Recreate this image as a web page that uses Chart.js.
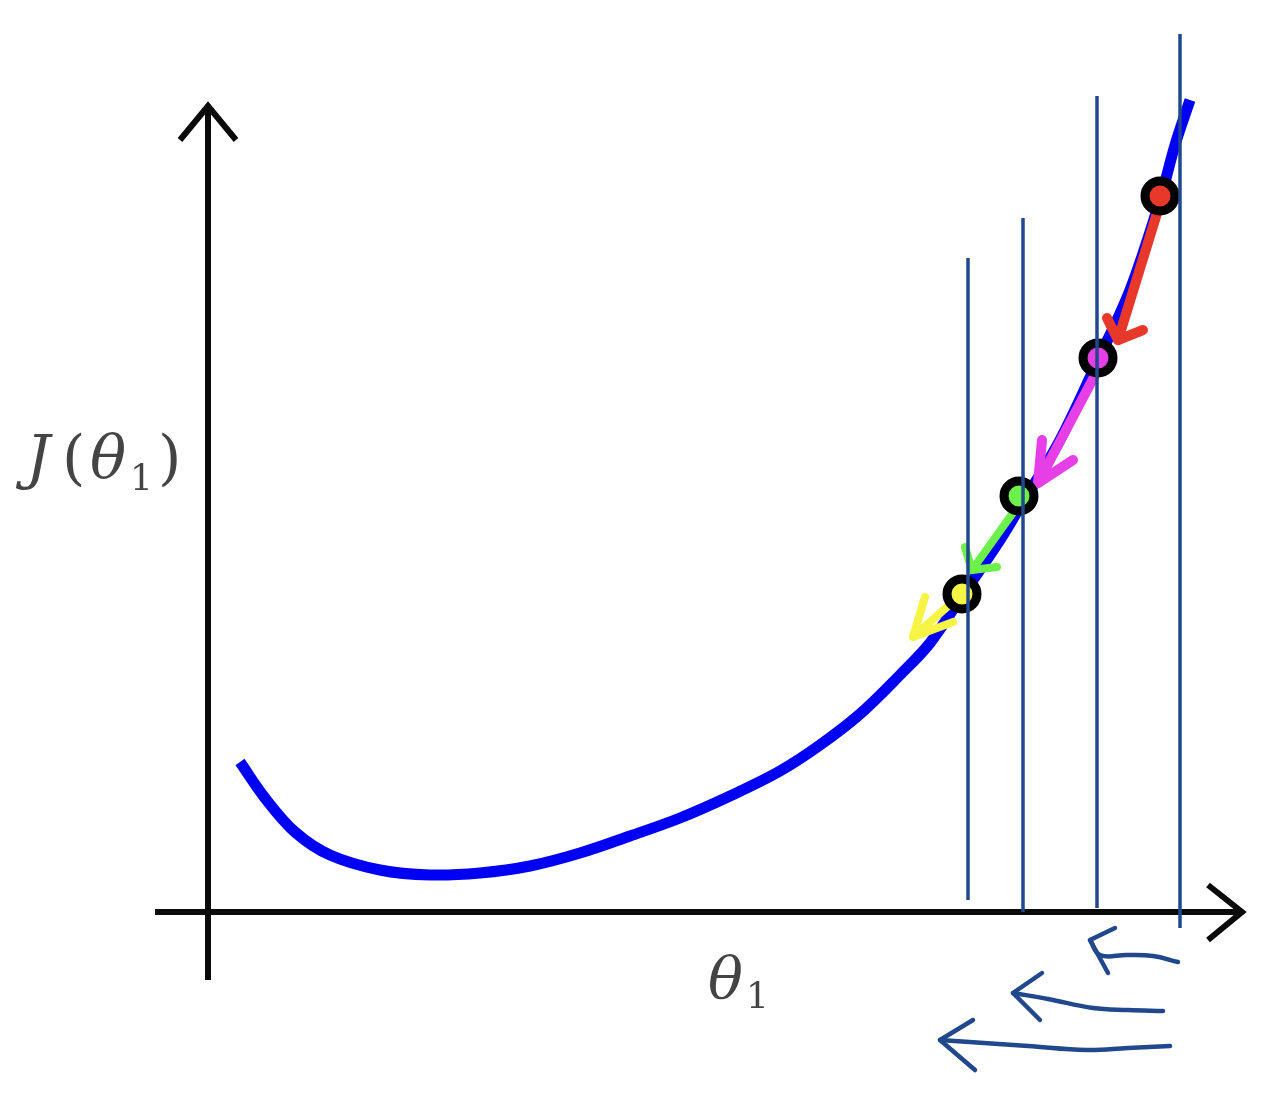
<!DOCTYPE html>
<html>
<head>
<meta charset="utf-8">
<script src="https://cdn.jsdelivr.net/npm/chart.js@4.4.1/dist/chart.umd.min.js"></script>
<style>
    html, body { margin: 0; padding: 0; background: #ffffff; }
    #wrap { width: 1272px; height: 1106px; }
</style>
</head>
<body>
<div id="wrap"><canvas id="descentChart" width="1272" height="1106"></canvas></div>
<script>
// cost curve J(theta1)
const curveTheta = [0.32, 0.57, 0.87, 1.22, 1.72, 2.22, 2.72, 3.22, 3.72, 4.22, 4.72, 5.22, 5.72, 6.12, 6.52, 6.92, 7.22, 7.54, 7.92, 8.12, 8.52, 8.90, 9.22, 9.52, 9.67, 9.82];
const curveCost = [1.50, 1.14, 0.80, 0.57, 0.42, 0.37, 0.39, 0.46, 0.59, 0.76, 0.94, 1.16, 1.41, 1.67, 1.98, 2.37, 2.69, 3.16, 3.72, 4.05, 4.72, 5.52, 6.22, 7.12, 7.67, 8.12];

// gradient descent steps
const stepTheta = [9.52, 8.90, 8.11, 7.54];
const stepCost = [7.16, 5.54, 4.16, 3.18];
const stepColors = ['#e8382a', '#e63fe8', '#6cf04c', '#f6f545'];

// step arrows: tail, tip, and the two arms of the head
const arrowTail = [[9.50, 7.02], [8.87, 5.37], [8.07, 4.02], [7.47, 3.12]];
const arrowTip = [[9.10, 5.72], [8.30, 4.29], [7.64, 3.42], [7.05, 2.75]];
const arrowArmA = [[8.99, 5.94], [8.34, 4.72], [7.57, 3.65], [7.17, 3.15]];
const arrowArmB = [[9.35, 5.82], [8.65, 4.52], [7.89, 3.45], [7.45, 2.90]];

// vertical guides at each theta
const guideTheta = [7.60, 8.15, 8.89, 9.72];
const guideTop = [6.54, 6.94, 8.16, 8.78];
const guideBottom = [0.12, 0.00, 0.04, -0.16];

// hand drawn step-size arrows under the axis
const handArrows = [
    [[9.70, -0.50], [9.45, -0.44], [9.19, -0.43], [8.92, -0.43], [8.82, -0.28]],
    [[9.55, -0.99], [9.20, -0.98], [8.85, -0.96], [8.40, -0.87], [8.05, -0.81]],
    [[9.62, -1.34], [9.20, -1.36], [8.79, -1.38], [8.20, -1.34], [7.32, -1.28]]
];
const handHeads = [
    [[9.07, -0.16], [8.82, -0.28], [9.00, -0.61]],
    [[8.34, -0.61], [8.05, -0.81], [8.32, -1.08]],
    [[7.65, -1.08], [7.32, -1.28], [7.67, -1.58]]
];

const toPts = (xs, ys) => xs.map((x, i) => ({x: x, y: ys[i]}));
const pair = p => ({x: p[0], y: p[1]});

const guideColor = '#21488c';
const datasets = [];

// guides go on top (first dataset is drawn last)
guideTheta.forEach((t, i) => {
    datasets.push({
        data: [{x: t, y: guideBottom[i]}, {x: t, y: guideTop[i]}],
        borderColor: guideColor, borderWidth: 3.5, showLine: true, pointRadius: 0
    });
});

datasets.push({
    data: toPts(stepTheta, stepCost),
    showLine: false,
    pointRadius: 15,
    pointBorderWidth: 9,
    pointBorderColor: '#000000',
    pointBackgroundColor: stepColors
});

stepColors.forEach((c, i) => {
    const w = i < 2 ? 10 : 8;
    datasets.push({
        data: [pair(arrowTail[i]), pair(arrowTip[i])],
        borderColor: c, borderWidth: w, showLine: true, pointRadius: 0, borderCapStyle: 'round'
    });
    datasets.push({
        data: [pair(arrowArmA[i]), pair(arrowTip[i]), pair(arrowArmB[i])],
        borderColor: c, borderWidth: w, showLine: true, pointRadius: 0,
        borderCapStyle: 'round', borderJoinStyle: 'round'
    });
});

datasets.push({
    data: toPts(curveTheta, curveCost),
    borderColor: '#0000f5', borderWidth: 11, showLine: true, pointRadius: 0,
    tension: 0.35, borderJoinStyle: 'round'
});

handArrows.forEach((arr, i) => {
    datasets.push({
        data: arr.map(pair),
        borderColor: guideColor, borderWidth: 4.5, showLine: true, pointRadius: 0,
        tension: 0.4, borderCapStyle: 'round'
    });
    datasets.push({
        data: handHeads[i].map(pair),
        borderColor: guideColor, borderWidth: 4.5, showLine: true, pointRadius: 0,
        borderCapStyle: 'round', borderJoinStyle: 'round'
    });
});

// axes with arrow heads
const axisColor = '#0a0a0a';
datasets.push({
    data: [{x: 0, y: -0.68}, {x: 0, y: 8.06}],
    borderColor: axisColor, borderWidth: 6, showLine: true, pointRadius: 0
});
datasets.push({
    data: [{x: -0.28, y: 7.72}, {x: 0, y: 8.06}, {x: 0.28, y: 7.72}],
    borderColor: axisColor, borderWidth: 6, showLine: true, pointRadius: 0, borderJoinStyle: 'miter'
});
datasets.push({
    data: [{x: -0.53, y: 0}, {x: 10.34, y: 0}],
    borderColor: axisColor, borderWidth: 6, showLine: true, pointRadius: 0
});
datasets.push({
    data: [{x: 10.00, y: 0.27}, {x: 10.34, y: 0}, {x: 10.00, y: -0.28}],
    borderColor: axisColor, borderWidth: 6, showLine: true, pointRadius: 0, borderJoinStyle: 'miter'
});

// axis labels as text
const labelPlugin = {
    id: 'labels',
    afterDraw(chart) {
        const ctx = chart.ctx;
        ctx.save();
        ctx.fillStyle = '#444444';
        ctx.textBaseline = 'alphabetic';
        ctx.font = 'italic 60px "DejaVu Serif"';
        ctx.fillText('J', 26, 478);
        ctx.font = '60px "DejaVu Serif"';
        ctx.fillText('(', 62, 478);
        ctx.font = 'italic 60px "DejaVu Serif"';
        ctx.fillText('θ', 90, 478);
        ctx.font = '36px "DejaVu Serif"';
        ctx.fillText('1', 130, 490);
        ctx.font = '60px "DejaVu Serif"';
        ctx.fillText(')', 158, 478);

        ctx.font = 'italic 58px "DejaVu Serif"';
        ctx.fillText('θ', 708, 998);
        ctx.font = '36px "DejaVu Serif"';
        ctx.fillText('1', 746, 1008);
        ctx.restore();
    }
};

const ctx = document.getElementById('descentChart').getContext('2d');
const descentChart = new Chart(ctx, {
    type: 'scatter',
    data: {datasets: datasets},
    options: {
        responsive: false,
        devicePixelRatio: 1,
        animation: false,
        layout: {padding: 0, autoPadding: false},
        plugins: {
            legend: {display: false},
            tooltip: {enabled: false}
        },
        scales: {
            x: {type: 'linear', min: -2.08, max: 10.64, display: false},
            y: {type: 'linear', min: -1.94, max: 9.12, display: false}
        }
    },
    plugins: [labelPlugin]
});
</script>
</body>
</html>
